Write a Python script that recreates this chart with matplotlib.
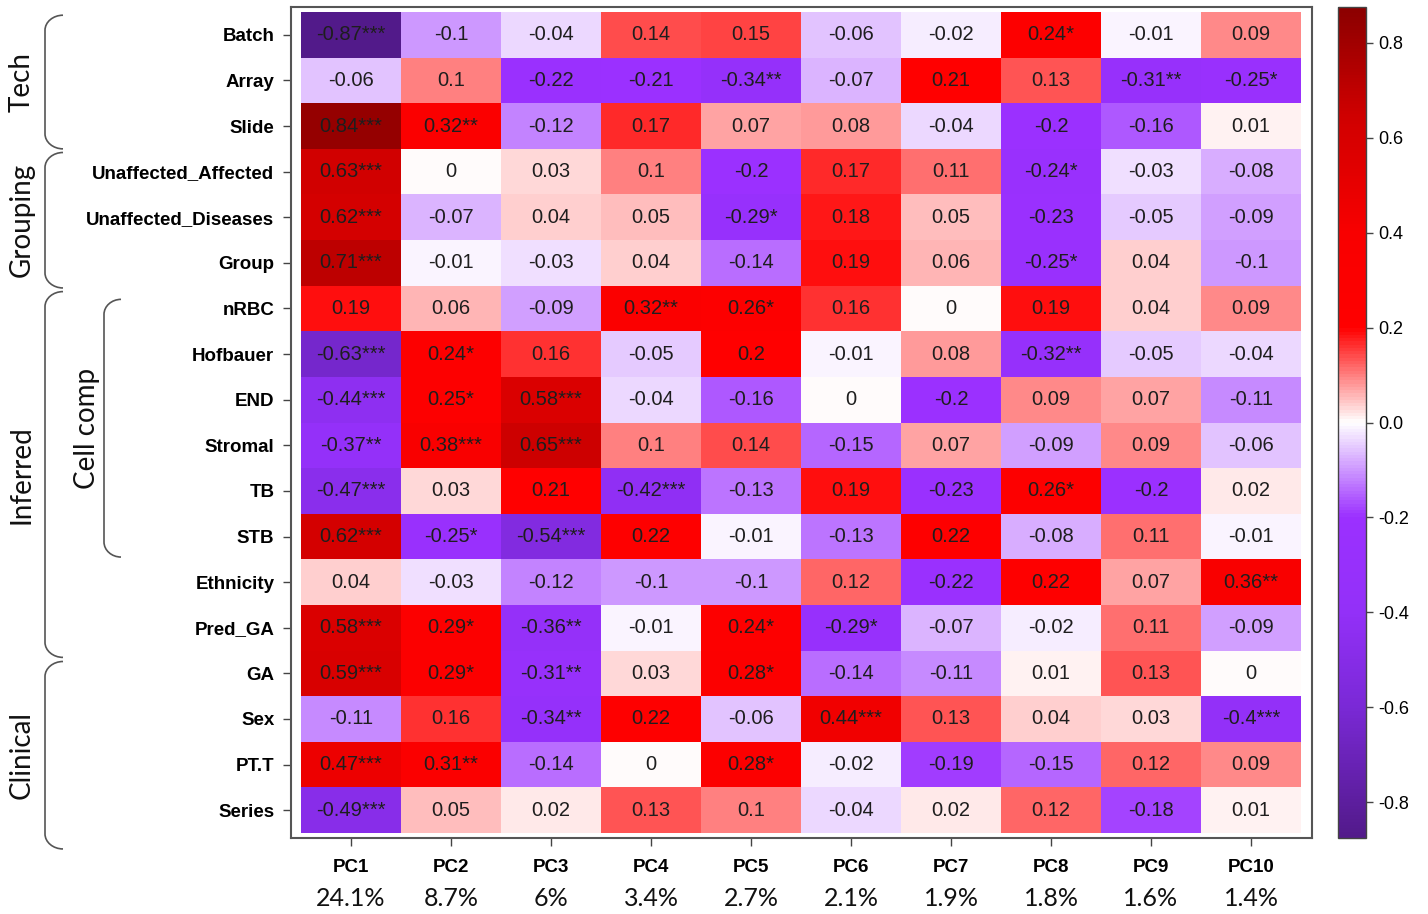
import numpy as np
import matplotlib
matplotlib.use("Agg")
import matplotlib.pyplot as plt
from matplotlib.colors import LinearSegmentedColormap, Normalize
from matplotlib.path import Path
from matplotlib.patches import PathPatch
import matplotlib.transforms as mtransforms

plt.rcParams['axes.unicode_minus'] = False
plt.rcParams['font.family'] = ['Liberation Sans', 'DejaVu Sans']

# ---------------- data ----------------
rows = ["Batch", "Array", "Slide", "Unaffected_Affected", "Unaffected_Diseases", "Group",
        "nRBC", "Hofbauer", "END", "Stromal", "TB", "STB", "Ethnicity", "Pred_GA",
        "GA", "Sex", "PT.T", "Series"]
pcs = ["PC1", "PC2", "PC3", "PC4", "PC5", "PC6", "PC7", "PC8", "PC9", "PC10"]
var_explained = ["24.1%", "8.7%", "6%", "3.4%", "2.7%", "2.1%", "1.9%", "1.8%", "1.6%", "1.4%"]

values = [
    [-0.87, -0.10, -0.04, 0.14, 0.15, -0.06, -0.02, 0.24, -0.01, 0.09],
    [-0.06, 0.10, -0.22, -0.21, -0.34, -0.07, 0.21, 0.13, -0.31, -0.25],
    [0.84, 0.32, -0.12, 0.17, 0.07, 0.08, -0.04, -0.20, -0.16, 0.01],
    [0.63, 0.00, 0.03, 0.10, -0.20, 0.17, 0.11, -0.24, -0.03, -0.08],
    [0.62, -0.07, 0.04, 0.05, -0.29, 0.18, 0.05, -0.23, -0.05, -0.09],
    [0.71, -0.01, -0.03, 0.04, -0.14, 0.19, 0.06, -0.25, 0.04, -0.10],
    [0.19, 0.06, -0.09, 0.32, 0.26, 0.16, 0.00, 0.19, 0.04, 0.09],
    [-0.63, 0.24, 0.16, -0.05, 0.20, -0.01, 0.08, -0.32, -0.05, -0.04],
    [-0.44, 0.25, 0.58, -0.04, -0.16, 0.00, -0.20, 0.09, 0.07, -0.11],
    [-0.37, 0.38, 0.65, 0.10, 0.14, -0.15, 0.07, -0.09, 0.09, -0.06],
    [-0.47, 0.03, 0.21, -0.42, -0.13, 0.19, -0.23, 0.26, -0.20, 0.02],
    [0.62, -0.25, -0.54, 0.22, -0.01, -0.13, 0.22, -0.08, 0.11, -0.01],
    [0.04, -0.03, -0.12, -0.10, -0.10, 0.12, -0.22, 0.22, 0.07, 0.36],
    [0.58, 0.29, -0.36, -0.01, 0.24, -0.29, -0.07, -0.02, 0.11, -0.09],
    [0.59, 0.29, -0.31, 0.03, 0.28, -0.14, -0.11, 0.01, 0.13, 0.00],
    [-0.11, 0.16, -0.34, 0.22, -0.06, 0.44, 0.13, 0.04, 0.03, -0.40],
    [0.47, 0.31, -0.14, 0.00, 0.28, -0.02, -0.19, -0.15, 0.12, 0.09],
    [-0.49, 0.05, 0.02, 0.13, 0.10, -0.04, 0.02, 0.12, -0.18, 0.01],
]

stars = [
    ["***", "", "", "", "", "", "", "*", "", ""],
    ["", "", "", "", "**", "", "", "", "**", "*"],
    ["***", "**", "", "", "", "", "", "", "", ""],
    ["***", "", "", "", "", "", "", "*", "", ""],
    ["***", "", "", "", "*", "", "", "", "", ""],
    ["***", "", "", "", "", "", "", "*", "", ""],
    ["", "", "", "**", "*", "", "", "", "", ""],
    ["***", "*", "", "", "", "", "", "**", "", ""],
    ["***", "*", "***", "", "", "", "", "", "", ""],
    ["**", "***", "***", "", "", "", "", "", "", ""],
    ["***", "", "", "***", "", "", "", "*", "", ""],
    ["***", "*", "***", "", "", "", "", "", "", ""],
    ["", "", "", "", "", "", "", "", "", "**"],
    ["***", "*", "**", "", "*", "*", "", "", "", ""],
    ["***", "*", "**", "", "*", "", "", "", "", ""],
    ["", "", "**", "", "", "***", "", "", "", "***"],
    ["***", "**", "", "", "*", "", "", "", "", ""],
    ["***", "", "", "", "", "", "", "", "", ""],
]

cbar_ticks = [-0.8, -0.6, -0.4, -0.2, 0.0, 0.2, 0.4, 0.6, 0.8]

groups = [("Tech", 0.07, 3.0), ("Grouping", 3.08, 6.05),
          ("Inferred", 6.13, 14.15), ("Clinical", 14.24, 18.35)]
subgroups = [("Cell comp", 6.3, 11.95)]

# ---------------- figure ----------------
W, H = 1428, 914
fig = plt.figure(figsize=(W / 100, H / 100), dpi=100)

ax_l, ax_r, ax_t, ax_b = 291, 1312, 7, 838
ax = fig.add_axes([ax_l / W, 1 - ax_b / H, (ax_r - ax_l) / W, (ax_b - ax_t) / H])

vmax = 0.875
cmap = LinearSegmentedColormap.from_list("pw", [
    (0.0, "#521a8a"),
    ((-0.6 + vmax) / (2 * vmax), "#7a29d6"),
    ((-0.4 + vmax) / (2 * vmax), "#9330f8"),
    ((-0.2 + vmax) / (2 * vmax), "#9b30ff"),
    (0.5, "#ffffff"),
    ((0.2 + vmax) / (2 * vmax), "#ff0000"),
    ((0.4 + vmax) / (2 * vmax), "#f80000"),
    ((0.65 + vmax) / (2 * vmax), "#cf0000"),
    (1.0, "#8b0000"),
])
norm = Normalize(vmin=-vmax, vmax=vmax)

Z = np.array(values)
nr, nc = Z.shape
mesh = ax.pcolormesh(np.arange(nc + 1), np.arange(nr + 1), Z, cmap=cmap, norm=norm)
ax.set_xlim(-0.1, nc + 0.11)
ax.set_ylim(nr + 0.11, -0.11)

def fmt(v):
    s = f"{v:g}"
    return "0" if s in ("-0", "0") else s

for i in range(nr):
    for j in range(nc):
        ax.text(j + 0.5, i + 0.5, fmt(Z[i, j]) + stars[i][j], ha="center", va="center",
                fontsize=14.5, color="#1e1e1e")

ax.set_xticks(np.arange(nc) + 0.5)
ax.set_xticklabels(pcs, fontsize=13.5, fontweight="bold")
ax.set_yticks(np.arange(nr) + 0.5)
ax.set_yticklabels(rows, fontsize=13.5, fontweight="bold")
ax.tick_params(axis="both", length=6, width=1.0, color="#444444", pad=6)
ax.tick_params(axis="x", pad=9)
for s in ax.spines.values():
    s.set_color("#555555")
    s.set_linewidth(1.5)

for j, pct in enumerate(var_explained):
    ax.annotate(pct, xy=(j + 0.5, 0), xycoords=("data", "axes fraction"),
                xytext=(0, -43.5), textcoords="offset points", ha="center", va="center",
                fontsize=18, family=["Lato", "DejaVu Sans"], color="#111111")

# ---------------- colorbar ----------------
cax = fig.add_axes([1338 / W, 1 - ax_b / H, 28 / W, (ax_b - ax_t) / H])
cb = fig.colorbar(mesh, cax=cax, ticks=cbar_ticks)
cb.ax.set_yticklabels([f"{t:.1f}" for t in cbar_ticks], fontsize=13)
cb.ax.tick_params(length=5, width=1.0, color="#444444", pad=4)
cb.outline.set_edgecolor("#444444")
cb.outline.set_linewidth(1.0)

# ---------------- group brackets ----------------
trans = mtransforms.blended_transform_factory(fig.transFigure, ax.transData)

def bracket(x_line, x_end, y0, y1, r=0.33):
    xl, xe = x_line / W, x_end / W
    verts = [(xe, y0), (xl + 0.45 * (xe - xl), y0), (xl, y0 + 0.45 * r), (xl, y0 + r),
             (xl, y1 - r),
             (xl, y1 - 0.45 * r), (xl + 0.45 * (xe - xl), y1), (xe, y1)]
    codes = [Path.MOVETO, Path.CURVE4, Path.CURVE4, Path.CURVE4,
             Path.LINETO,
             Path.CURVE4, Path.CURVE4, Path.CURVE4]
    patch = PathPatch(Path(verts, codes), transform=trans, fill=False,
                      edgecolor="#555555", linewidth=1.2, clip_on=False)
    fig.add_artist(patch)

for name, y0, y1 in groups:
    bracket(45, 63, y0, y1)
    fig.text(22 / W, (y0 + y1) / 2, name, transform=trans, rotation=90,
             ha="center", va="center", fontsize=20, family=["Lato", "DejaVu Sans"],
             color="#111111")

for name, y0, y1 in subgroups:
    bracket(104, 121, y0, y1)
    fig.text(87 / W, (y0 + y1) / 2, name, transform=trans, rotation=90,
             ha="center", va="center", fontsize=20, family=["Lato", "DejaVu Sans"],
             color="#111111")

fig.savefig("out.png", dpi=100)
